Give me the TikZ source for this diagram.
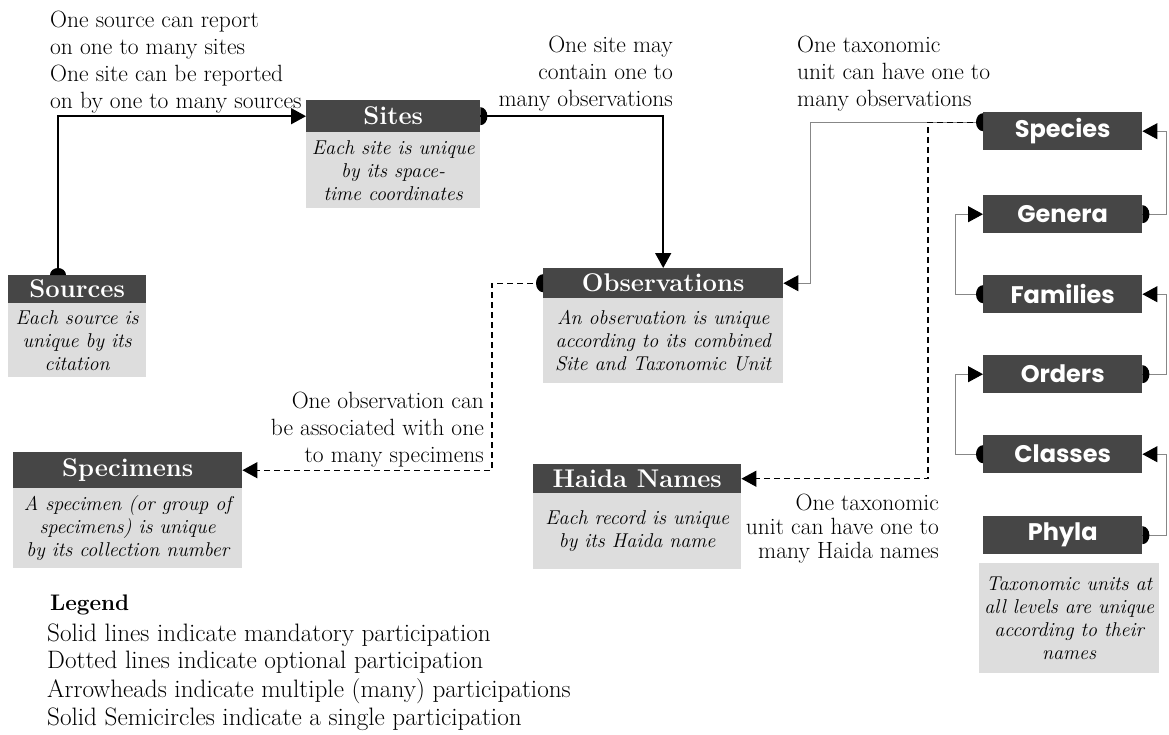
\documentclass[tikz,border=0pt]{standalone}
\usepackage{fontspec}
\newfontfamily\geo{Poppins}
\usetikzlibrary{arrows.meta}
\definecolor{hdrc}{RGB}{70,70,70}
\definecolor{bdyc}{RGB}{221,221,221}
\definecolor{thinc}{RGB}{135,135,135}
\newcommand\semiL[1]{\fill ([yshift=-9pt]#1) arc[start angle=-90, end angle=-270, x radius=7pt, y radius=9pt] -- cycle;}
\newcommand\semiR[1]{\fill ([yshift=-9pt]#1) arc[start angle=-90, end angle=90, x radius=7pt, y radius=9pt] -- cycle;}
\newcommand\semiU[1]{\fill ([xshift=-8pt]#1) arc[start angle=180, end angle=0, x radius=8pt, y radius=7pt] -- cycle;}
\tikzset{
  hdr/.style={fill=hdrc, text=white, font=\bfseries\fontsize{25.6}{27}\selectfont, inner sep=0pt, anchor=north west},
  bdy/.style={fill=bdyc, font=\itshape\fontsize{20}{23}\selectfont, align=center, inner sep=0pt, anchor=north west},
  tax/.style={fill=hdrc, text=white, font=\geo\bfseries\fontsize{24}{26}\selectfont, minimum width=159pt, minimum height=38pt, inner sep=0pt, anchor=north west},
  note/.style={font=\fontsize{23.5}{27}\selectfont, inner sep=0pt},
  noteL/.style={note, anchor=base west},
  noteR/.style={note, anchor=base east},
  legL/.style={font=\fontsize{25.2}{28}\selectfont, inner sep=0pt, anchor=base west},
  tip/.style={-{Triangle[length=15pt,width=16pt,color=black]}},
  mand/.style={line width=1.5pt, black},
  optl/.style={line width=1.4pt, black, dash pattern=on 6pt off 4pt},
  thinl/.style={line width=1pt, thinc},
}
\begin{document}
\begin{tikzpicture}[x=1pt,y=-1pt]
\useasboundingbox (0,0) rectangle (1169,734);
\fill[white] (0,0) rectangle (1169,734);

% entities
\node[hdr, minimum width=138pt, minimum height=28pt] (srcH) at (8,275) {Sources};
\node[bdy, minimum width=138pt, minimum height=74pt] (srcB) at (8,303) {Each source is\\unique by its\\citation};

\node[hdr, minimum width=174pt, minimum height=32pt] (sitH) at (306,100) {Sites};
\node[bdy, minimum width=174pt, minimum height=76pt] (sitB) at (306,132) {Each site is unique\\by its space-\\time coordinates};

\node[hdr, minimum width=240pt, minimum height=30pt] (obsH) at (543,268) {Observations};
\node[bdy, minimum width=240pt, minimum height=85pt] (obsB) at (543,298) {An observation is unique\\according to its combined\\Site and Taxonomic Unit};

\node[hdr, minimum width=229pt, minimum height=36pt] (spcH) at (13,452) {Specimens};
\node[bdy, minimum width=229pt, minimum height=80pt] (spcB) at (13,488) {A specimen (or group of\\specimens) is unique\\by its collection number};

\node[hdr, minimum width=208pt, minimum height=29pt] (haiH) at (533,464) {Haida Names};
\node[bdy, minimum width=208pt, minimum height=76pt] (haiB) at (533,493) {Each record is unique\\by its Haida name};

\node[tax] (species) at (983,112) {Species};
\node[tax] (genera) at (983,195) {Genera};
\node[tax] (families) at (983,275) {Families};
\node[tax] (orders) at (983,355) {Orders};
\node[tax] (classes) at (983,435) {Classes};
\node[tax] (phyla) at (983,516) {Phyla};
\node[bdy, minimum width=180pt, minimum height=110pt] (phyB) at (979,563) {Taxonomic units at\\all levels are unique\\according to their\\names};

\coordinate (srcT) at ([xshift=50pt]srcH.north west);
\coordinate (spW) at ([yshift=9pt]species.west);

% connectors
\draw[mand, tip] (srcT) |- (sitH.west);
\semiU{srcT}
\draw[mand, tip] (sitH.east) -| (obsH.north);
\semiR{sitH.east}
\draw[optl, tip] (obsH.west) -- ++(-51,0) |- (spcH.east);
\semiL{obsH.west}
\draw[thinl, tip] (spW) -| ([xshift=27pt]obsH.east) -- (obsH.east);
\draw[optl, tip] (spW) -- ++(-55,0) |- (haiH.east);
\semiL{spW}

\draw[thinl, tip] (genera.east) -- ++(24,0) |- (species.east);
\semiR{genera.east}
\draw[thinl, tip] (orders.east) -- ++(24,0) |- (families.east);
\semiR{orders.east}
\draw[thinl, tip] (phyla.east) -- ++(24,0) |- (classes.east);
\semiR{phyla.east}
\draw[thinl, tip] (families.west) -- ++(-28,0) |- (genera.west);
\semiL{families.west}
\draw[thinl, tip] (classes.west) -- ++(-28,0) |- (orders.west);
\semiL{classes.west}

% notes
\node[noteL] (n1a) at (50,27) {One source can report};
\node[noteL] (n1b) at (50,54) {on one to many sites};
\node[noteL] (n1c) at (50,81) {One site can be reported};
\node[noteL] (n1d) at (50,108) {on by one to many sources};

\node[noteR] (n2a) at (673,52) {One site may};
\node[noteR] (n2b) at (673,79) {contain one to};
\node[noteR] (n2c) at (673,106) {many observations};

\node[noteL] (n3a) at (797,52) {One taxonomic};
\node[noteL] (n3b) at (797,79) {unit can have one to};
\node[noteL] (n3c) at (797,106) {many observations};

\node[noteR] (n4a) at (484,408) {One observation can};
\node[noteR] (n4b) at (484,435) {be associated with one};
\node[noteR] (n4c) at (484,462) {to many specimens};

\node[noteR] (n5a) at (939,510) {One taxonomic};
\node[noteR] (n5b) at (939,534) {unit can have one to};
\node[noteR] (n5c) at (939,558) {many Haida names};

% legend
\node[legL, font=\bfseries\fontsize{22.5}{27}\selectfont] (lg0) at (50,610) {Legend};
\node[legL] (lg1) at (47,641) {Solid lines indicate mandatory participation};
\node[legL] (lg2) at (47,668) {Dotted lines indicate optional participation};
\node[legL] (lg3) at (47,697) {Arrowheads indicate multiple (many) participations};
\node[legL] (lg4) at (47,725) {Solid Semicircles indicate a single participation};
\end{tikzpicture}
\end{document}
